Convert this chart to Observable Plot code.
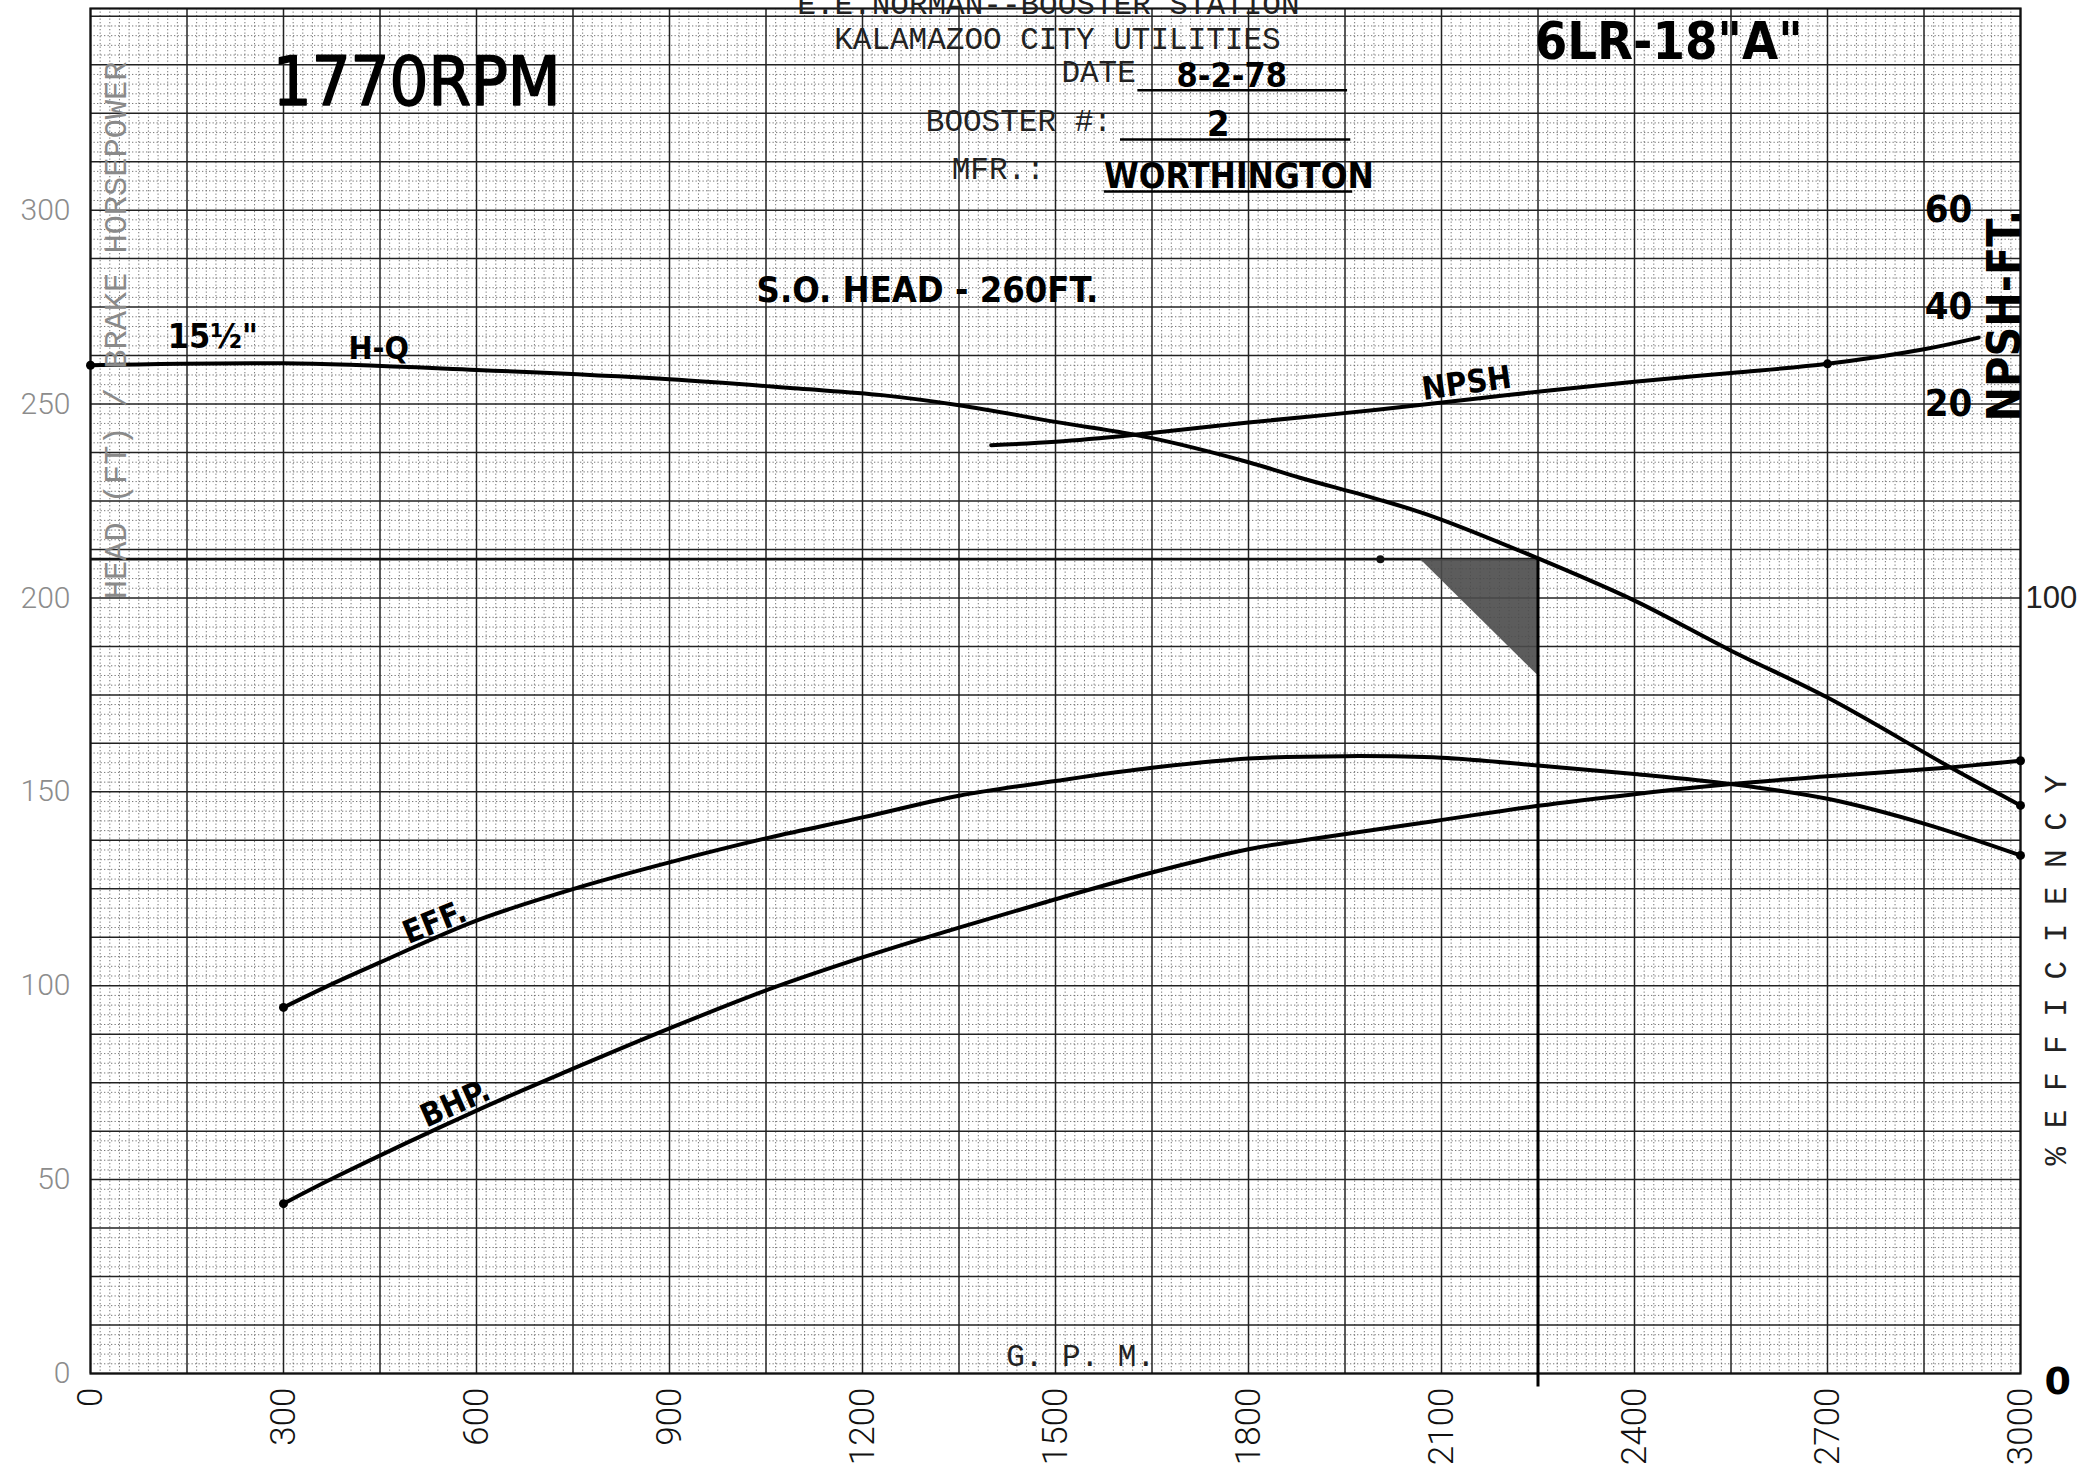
<!DOCTYPE html>
<html>
<head>
<meta charset="utf-8">
<script src="https://cdn.jsdelivr.net/npm/d3@7"></script>
<script src="https://cdn.jsdelivr.net/npm/@observablehq/plot@0.6"></script>
<style>
  html, body { margin: 0; padding: 0; background: #fff; overflow: hidden; }
  #chart { width: 2091px; height: 1470px; }
</style>
</head>
<body>
<div id="chart"></div>
<script>
// ---------- data ----------
// H-Q curve (GPM vs head, ft)
const hqGpm  = [0, 300, 600, 900, 1100, 1230, 1350, 1500, 1650, 1800, 1880, 2000, 2090, 2250, 2400, 2550, 2700, 2890, 3000];
const hqHead = [260, 260.5, 258.8, 256.4, 254, 252.3, 249.7, 245.4, 241.2, 235, 231, 225.5, 220.8, 210.2, 199.3, 186.4, 174.3, 156.4, 146.5];

// Efficiency curve (GPM vs % efficiency)
const effGpm = [300, 380, 450, 600, 760, 900, 1055, 1200, 1350, 1500, 1650, 1800, 1950, 2100, 2250, 2400, 2550, 2700, 2850, 3000];
const effPct = [47.2, 50.4, 53, 58.4, 62.7, 65.9, 69.1, 71.7, 74.5, 76.4, 78.1, 79.3, 79.6, 79.4, 78.4, 77.3, 76, 74.1, 70.9, 66.8];

// Brake horsepower curve (GPM vs BHP)
const bhpGpm = [300, 380, 600, 750, 900, 1055, 1200, 1350, 1500, 1650, 1800, 1880, 2090, 2250, 2400, 2550, 2700, 2890, 3000];
const bhpHp  = [43.8, 50.6, 67.8, 78.6, 89, 99.1, 107.3, 115, 122.3, 129.2, 135.2, 137.4, 142.5, 146.4, 149.4, 152, 154, 156.3, 158];

// NPSH required curve (GPM vs NPSH, ft)
const npshGpm = [1400, 1500, 1620, 1800, 2000, 2200, 2400, 2550, 2700, 2850, 2935];
const npshFt  = [11.5, 12.2, 13.6, 16.2, 18.8, 21.8, 24.6, 26.4, 28.3, 31.3, 33.7];

// operating point and shaded wedge
const opGpm = 2250;
const opHead = 210;
const wedgeGpm = [2067, 2250];
const wedgeLow = [210, 180];

// tick values / labels
const xTicks = [0, 300, 600, 900, 1200, 1500, 1800, 2100, 2400, 2700, 3000];
const yTicks = [0, 50, 100, 150, 200, 250, 300];
const npshTicks = [20, 40, 60];
const effTicks = [0, 100];

// ---------- secondary-axis transforms onto the head scale ----------
const effToHead = e => e * 2;            // 100 % efficiency ↔ 200 ft
const npshToHead = n => 225 + 1.25 * n;  // 20 ft ↔ 250, 60 ft ↔ 300

const hq = hqGpm.map((g, i) => ({gpm: g, v: hqHead[i]}));
const eff = effGpm.map((g, i) => ({gpm: g, v: effToHead(effPct[i])}));
const bhp = bhpGpm.map((g, i) => ({gpm: g, v: bhpHp[i]}));
const npsh = npshGpm.map((g, i) => ({gpm: g, v: npshToHead(npshFt[i])}));
const wedge = wedgeGpm.map((g, i) => ({gpm: g, lo: wedgeLow[i], hi: opHead}));

const ends = [hq[0], hq[hq.length - 1], eff[0], eff[eff.length - 1], bhp[0], bhp[bhp.length - 1],
              npsh.find(d => d.gpm === 2700)];

// grid lines of the graph paper
const fineX = d3.range(0, 3001, 15).filter(v => v % 150 !== 0);
const majorX = d3.range(0, 3001, 150);
const fineY = d3.range(0, 352, 2.5).filter(v => v % 12.5 !== 0);
const majorY = d3.range(0, 352, 12.5);

const MONO = "Liberation Mono, DejaVu Sans Mono, monospace";
const HAND = "DejaVu Sans Condensed, DejaVu Sans, sans-serif";
const THIN = "Roboto, Inter, Lato, sans-serif";

const line = (data) => Plot.line(data, {x: "gpm", y: "v", stroke: "#000", strokeWidth: 4, curve: "catmull-rom"});
const hand = (txt, x, y, size, extra = {}) =>
  Plot.text([txt], {x: () => x, y: () => y, text: d => d, fontFamily: HAND, fontWeight: "bold", fontSize: size, fill: "#000", ...extra});
const mono = (txt, x, y, size, extra = {}) =>
  Plot.text([txt], {x: () => x, y: () => y, text: d => d, fontFamily: MONO, fontSize: size, fill: "#222", ...extra});

const chart = Plot.plot({
  width: 2091,
  height: 1470,
  marginLeft: 90,
  marginRight: 71,
  marginTop: 8,
  marginBottom: 97,
  x: {domain: [0, 3000]},
  y: {domain: [0, 352]},
  style: {background: "#fff", overflow: "visible"},
  marks: [
    // graph paper
    Plot.ruleX(fineX, {stroke: "#555", strokeWidth: 1, strokeDasharray: "1.3,2.2", strokeOpacity: 0.8}),
    Plot.ruleY(fineY, {stroke: "#555", strokeWidth: 1, strokeDasharray: "1.3,2.2", strokeOpacity: 0.8}),
    Plot.ruleX(majorX, {stroke: "#222", strokeWidth: 1.5}),
    Plot.ruleY(majorY, {stroke: "#222", strokeWidth: 1.5}),
    Plot.frame({stroke: "#111", strokeWidth: 2.2}),

    // axes
    Plot.axisX(xTicks, {tickSize: 0, tickPadding: 14, tickRotate: -90, fontSize: 35, fontWeight: 300,
                        fontFamily: THIN, fill: "#111", label: null, tickFormat: d => String(d)}),
    Plot.axisY(yTicks, {tickSize: 0, tickPadding: 20, fontSize: 30, fontWeight: 300,
                        fontFamily: THIN, fill: "#8c8c8c", label: null, tickFormat: d => String(d)}),

    // operating point construction
    Plot.ruleY([opHead], {x1: 0, x2: opGpm, stroke: "#111", strokeWidth: 2.6}),
    Plot.areaY(wedge, {x: "gpm", y1: "lo", y2: "hi", fill: "#4a4a4a", fillOpacity: 0.9}),
    Plot.ruleX([opGpm], {y1: -3.5, y2: opHead, stroke: "#000", strokeWidth: 3}),
    Plot.dot([{gpm: 2005, v: opHead}], {x: "gpm", y: "v", r: 4, fill: "#111"}),

    // curves
    line(hq),
    line(eff),
    line(bhp),
    line(npsh),
    Plot.dot(ends, {x: "gpm", y: "v", r: 4.5, fill: "#000"}),

    // header texts
    mono("E.E.NORMAN--BOOSTER STATION", 1489, 353.2, 31),
    mono("KALAMAZOO CITY UTILITIES", 1503, 344, 31),
    mono("DATE", 1567, 335.5, 31),
    mono("BOOSTER #:", 1443, 322.9, 31),
    mono("MFR.:", 1411, 310.5, 31),
    hand("8-2-78", 1774, 334.5, 34),
    hand("2", 1753, 322, 36),
    hand("WORTHINGTON", 1785, 308.7, 35),
    Plot.ruleY([330.9], {x1: 1628, x2: 1954, stroke: "#000", strokeWidth: 2.6}),
    Plot.ruleY([318.2], {x1: 1601, x2: 1959, stroke: "#000", strokeWidth: 2.6}),
    Plot.ruleY([304.8], {x1: 1576, x2: 1962, stroke: "#000", strokeWidth: 2.6}),

    hand("1770RPM", 507, 332.7, 68, {fontWeight: "normal", stroke: "#000", strokeWidth: 1.6}),
    hand("6LR-18\"A\"", 2453, 343.2, 52, {fontWeight: 600}),
    hand("S.O. HEAD - 260FT.", 1301, 279.3, 36),
    hand("15½\"", 190, 267.2, 34),
    hand("H-Q", 448, 264.3, 32),
    hand("NPSH", 2139, 255.3, 32, {rotate: -8}),
    hand("EFF.", 535, 116.3, 32, {rotate: -22}),
    hand("BHP.", 567, 69.6, 32, {rotate: -24}),
    mono("G. P. M.", 1539, 4.6, 31),

    // axis titles
    mono("HEAD (FT) / BRAKE HORSEPOWER", 40, 269, 32, {rotate: -90, fill: "#8a8a8a"}),
    hand("NPSH-FT.", 2977, 272.8, 46, {rotate: -90}),
    mono("% E F F I C I E N C Y", 3056, 104, 31, {rotate: -90}),

    // NPSH tick labels
    Plot.text(npshTicks, {x: () => 2888, y: d => npshToHead(d), text: d => String(d),
                          fontFamily: HAND, fontWeight: "bold", fontSize: 38, fill: "#000"}),
    // efficiency tick labels
    Plot.text(effTicks.filter(d => d === 100), {x: () => 3000, y: d => effToHead(d), text: d => String(d),
                          dx: 5, textAnchor: "start", fontFamily: "Liberation Sans, Arial, sans-serif", fontSize: 31, fill: "#222"}),
    Plot.text(effTicks.filter(d => d === 0), {x: () => 3000, y: d => effToHead(d), text: d => String(d),
                          dx: 24, dy: 8, textAnchor: "start", fontFamily: "DejaVu Sans, sans-serif", fontWeight: 900, fontSize: 38, fill: "#000"})
  ]
});

document.getElementById("chart").appendChild(chart);
</script>
</body>
</html>
